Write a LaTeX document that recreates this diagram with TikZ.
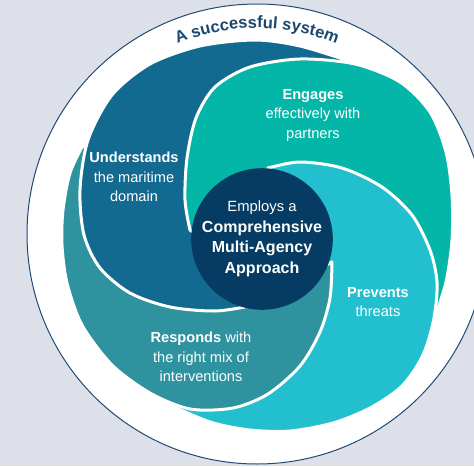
\documentclass[tikz,border=0pt]{standalone}
\usepackage{fontspec}
\setmainfont{Liberation Sans}
\usepackage{xcolor}
\usetikzlibrary{calc,decorations.text,positioning}

\definecolor{bgcol}{RGB}{221,224,232}
\definecolor{rimcol}{RGB}{31,74,115}
\definecolor{titlecol}{RGB}{28,72,112}
\definecolor{understcol}{RGB}{18,106,144}
\definecolor{engagecol}{RGB}{4,182,168}
\definecolor{preventcol}{RGB}{34,191,207}
\definecolor{respondcol}{RGB}{46,147,159}
\definecolor{corecol}{RGB}{6,60,99}

\tikzset{
  petal/.style={draw=white, line width=3pt, line join=round},
  petaltext/.style={text=white, align=center, font=\fontsize{14.6}{19.5}\selectfont},
  coretext/.style={circle, fill=corecol, inner sep=0pt, minimum size=141pt,
    text=white, align=center, font=\fontsize{16}{20.5}\selectfont}
}

% outline of the Understands petal, drawn twice
\newcommand{\understandpath}{plot[smooth] coordinates {(352,62) (300,46) (255,40) (200,46) (150,64) (112,95) (88,140) (80,190) (84,235) (100,268) (130,293) (170,307) (215,311) (250,306)} -- (290,260) -- (300,150) -- (345,100) -- cycle}

\begin{document}
\begin{tikzpicture}[x=1pt, y=-1pt]
\useasboundingbox (0,0) rectangle (474,466);
\clip (0,0) rectangle (474,466);
\fill[bgcol] (0,0) rectangle (474,466);

% Outer ring
\draw[rimcol, line width=1pt, fill=white] (257,234) circle[radius=230];

% Title along the ring
\begin{scope}[y=1pt]
\path[decorate, decoration={text along path, text align=center, text color=titlecol,
    text={|\fontsize{16.5}{18}\selectfont\bfseries|A successful system}}]
  ([shift={(140:206)}]257,-234) arc[start angle=140, end angle=40, radius=206];
\end{scope}

% Petals
\path[petal, fill=understcol] \understandpath;
\path[petal, fill=engagecol] plot[smooth] coordinates {(434,320) (446,282) (452,240) (452,195) (446,152) (430,112) (400,82) (355,64) (300,59) (250,67) (215,87) (196,118) (187,158) (185,200) (190,230)} -- (240,270) -- (330,300) -- (415,335) -- cycle;
\path[petal, fill=preventcol] plot[smooth] coordinates {(165,403) (210,422) (250,430) (290,431) (333,423) (370,408) (402,386) (423,355) (434,318) (437,282) (430,250) (412,215) (382,187) (342,168) (300,162) (268,168)} -- (240,250) -- (230,330) -- cycle;
\path[petal, fill=respondcol] plot[smooth] coordinates {(83,145) (70,173) (63,210) (62,245) (67,283) (82,325) (112,365) (150,393) (190,409) (233,408) (268,394) (300,366) (320,332) (330,298) (332,262)} -- (280,290) -- (200,290) -- (110,230) -- (95,160) -- cycle;

% Understands petal again on top of Responds
\begin{scope}
\clip (0,110) -- (172,110) -- (183,232) -- (262,240) -- (262,466) -- (0,466) -- cycle;
\path[petal, fill=understcol] \understandpath;
\end{scope}

% Centre
\node[coretext] (core) at (262,239) {{\fontsize{14.8}{20.5}\selectfont Employs a}\\\textbf{Comprehensive}\\\textbf{Multi-Agency}\\\textbf{Approach}};

% Labels
\node[petaltext] (understands) at (134,177) {\textbf{Understands}\\the maritime\\domain};
\node[petaltext] (engages) at (313,115) {\textbf{Engages}\\effectively with\\partners};
\node[petaltext] (prevents) at (378,302) {\textbf{Prevents}\\threats};
\node[petaltext] (responds) at (201,357) {\textbf{Responds} with\\the right mix of\\interventions};

\end{tikzpicture}
\end{document}
